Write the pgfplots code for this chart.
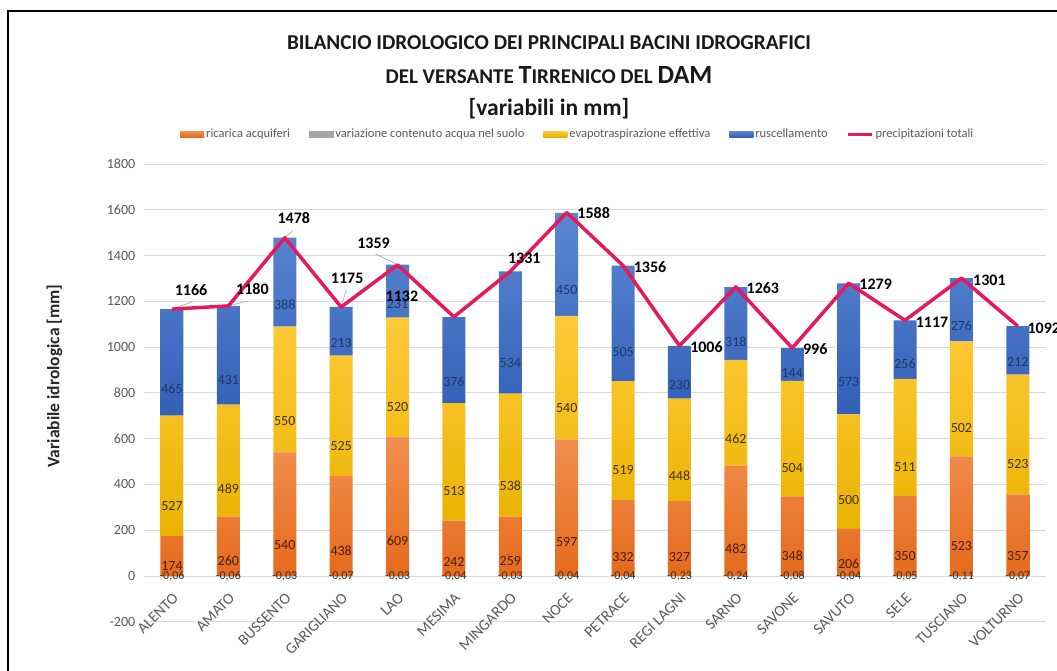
\documentclass[border=0pt]{standalone}
\usepackage{pgfplots}
\pgfplotsset{compat=1.18}
\usepackage{pgfplotstable}
\usepackage{fontspec}
\setmainfont{Carlito}
\definecolor{gridc}{HTML}{D9D9D9}
\definecolor{tickc}{HTML}{595959}
\definecolor{orT}{HTML}{F2904F}
\definecolor{orB}{HTML}{E56A1C}
\definecolor{orL}{HTML}{ED7D31}
\definecolor{yeT}{HTML}{FFCB3A}
\definecolor{yeB}{HTML}{EAB200}
\definecolor{yeL}{HTML}{FFC000}
\definecolor{blT}{HTML}{5B88D2}
\definecolor{blB}{HTML}{3360B8}
\definecolor{blL}{HTML}{4472C4}
\definecolor{grL}{HTML}{A5A5A5}
\definecolor{pk}{HTML}{E5195B}
\definecolor{labO}{HTML}{4A1E06}
\definecolor{labY}{HTML}{403200}
\definecolor{labB}{HTML}{1F3864}

\pgfplotstableread{
x R V E U vlab
0 174 -0.06 527 465 -0,06
1 260 -0.06 489 431 -0,06
2 540 -0.03 550 388 -0,03
3 438 -0.07 525 213 -0,07
4 609 -0.03 520 231 -0,03
5 242 -0.04 513 376 -0,04
6 259 -0.03 538 534 -0,03
7 597 -0.04 540 450 -0,04
8 332 -0.04 519 505 -0,04
9 327 -0.23 448 230 -0,23
10 482 -0.24 462 318 -0,24
11 348 -0.08 504 144 -0,08
12 206 -0.04 500 573 -0,04
13 350 -0.05 511 256 -0,05
14 523 -0.11 502 276 -0,11
15 357 -0.07 523 212 -0,07
}\bilancio

\pgfplotstableread{
x P dx dy
0 1166 19 19
1 1180 24 17
2 1478 9 19.5
3 1175 6 29
4 1359 -24 22
5 1132 -52 21
6 1331 14 13
7 1588 27 -1
8 1356 27 -1.5
9 1006 27 -1
10 1263 27 -1
11 996 23 -1
12 1279 27 -1
13 1117 27 -2
14 1301 28 -2
15 1092 26 -2
}\precip

\pgfplotstableread{
x y u v
0 1166 0.37 33
1 1180 0.35 22
2 1478 0.14 30
3 1175 0.09 74
4 1359 -0.39 48
}\leader

\begin{document}
\begin{tikzpicture}
\useasboundingbox (-143.8pt,-49.2pt) rectangle (913.2pt,621.8pt);
\begin{axis}[
  scale only axis, width=902.2pt, height=457.8pt,
  xmin=-0.5, xmax=15.5, ymin=-200, ymax=1800,
  ybar stacked, bar width=23pt,
  axis x line*=bottom, axis y line*=left,
  axis line style={draw=none},
  tick style={draw=none},
  ytick={-200,0,200,...,1800},
  ymajorgrids, grid style={gridc, line width=0.9pt},
  xtick={0,...,15},
  xticklabels={ALENTO,AMATO,BUSSENTO,GARIGLIANO,LAO,MESIMA,MINGARDO,NOCE,PETRACE,REGI LAGNI,SARNO,SAVONE,SAVUTO,SELE,TUSCIANO,VOLTURNO},
  xticklabel style={yshift=35pt, xshift=0pt, rotate=45, anchor=north east, font=\fontsize{15.5}{15.5}\selectfont, text=tickc},
  yticklabel style={xshift=-5pt, font=\fontsize{14}{14}\selectfont, text=tickc},
  /pgf/number format/1000 sep={},
  /pgf/number format/assume math mode=true,
  ylabel={Variabile idrologica [mm]},
  ylabel style={at={(axis description cs:-0.099,0.537)}, anchor=center, font=\bfseries\fontsize{17.5}{17.5}\selectfont, text=black!85},
  legend columns=5,
  legend style={draw=none, fill=none, at={(axis description cs:0.481,1.0655)}, anchor=center, font=\fontsize{12.5}{12.5}\selectfont, text=tickc, /tikz/every even column/.append style={column sep=17pt}},
  legend cell align=left,
  point meta=explicit symbolic,
  nodes near coords,
]
\addplot[forget plot, fill=grL, draw=none,
  every node near coord/.append style={anchor=center, font=\fontsize{12}{12}\selectfont, text=black!80}]
  table[x=x, y=V, meta=vlab]{\bilancio};
\addplot[draw=none, top color=orT, bottom color=orB,
  legend image code/.code={\fill[orL] (0pt,-3pt) rectangle (24pt,3pt);},
  visualization depends on={\thisrow{R}\as\segval},
  every node near coord/.append style={anchor=center, yshift=-\segval*0.057225pt, font=\fontsize{14}{14}\selectfont, text=labO}]
  table[x=x, y=R, meta=R]{\bilancio};
\addlegendentry{ricarica acquiferi}
\addlegendimage{legend image code/.code={\fill[grL] (0pt,-3pt) rectangle (24pt,3pt);}}
\addlegendentry{variazione contenuto acqua nel suolo}
\addplot[draw=none, top color=yeT, bottom color=yeB,
  legend image code/.code={\fill[yeL] (0pt,-3pt) rectangle (24pt,3pt);},
  visualization depends on={\thisrow{E}\as\segval},
  every node near coord/.append style={anchor=center, yshift=-\segval*0.057225pt, font=\fontsize{14}{14}\selectfont, text=labY}]
  table[x=x, y=E, meta=E]{\bilancio};
\addlegendentry{evapotraspirazione effettiva}
\addplot[draw=none, top color=blT, bottom color=blB,
  legend image code/.code={\fill[blL] (0pt,-3pt) rectangle (24pt,3pt);},
  visualization depends on={\thisrow{U}\as\segval},
  every node near coord/.append style={anchor=center, yshift=-\segval*0.057225pt, font=\fontsize{14}{14}\selectfont, text=labB}]
  table[x=x, y=U, meta=U]{\bilancio};
\addlegendentry{ruscellamento}
\addlegendimage{legend image code/.code={\draw[pk, line width=3pt] (0pt,0pt) -- (24pt,0pt);}}
\addlegendentry{precipitazioni totali}
\end{axis}
\begin{axis}[
  scale only axis, width=902.2pt, height=457.8pt,
  xmin=-0.5, xmax=15.5, ymin=-200, ymax=1800,
  hide axis, clip=false]
\addplot[gray!70, line width=0.6pt, quiver={u=\thisrow{u}, v=\thisrow{v}}]
  table[x=x, y=y]{\leader};
\addplot[pk, line width=3.5pt, line join=round, mark=none,
  point meta=explicit symbolic, nodes near coords,
  visualization depends on={\thisrow{dx}\as\ddx},
  visualization depends on={\thisrow{dy}\as\ddy},
  every node near coord/.append style={anchor=center, xshift=\ddx pt, yshift=\ddy pt, font=\bfseries\fontsize{16}{16}\selectfont, text=black}]
  table[x=x, y=P, meta=P]{\precip};
\end{axis}
\node[anchor=base, font=\bfseries\fontsize{21.2}{21.2}\selectfont, text=black!90] at (405.2pt,571.8pt) {BILANCIO IDROLOGICO DEI PRINCIPALI BACINI IDROGRAFICI};
\node[anchor=base, font=\bfseries\fontsize{21}{21}\selectfont, text=black!90] at (405.2pt,537.8pt) {DEL VERSANTE {\fontsize{26.3}{26.3}\selectfont T}IRRENICO DEL {\fontsize{26.3}{26.3}\selectfont DAM}};
\node[anchor=base, font=\bfseries\fontsize{23.5}{23.5}\selectfont, text=black!90] at (405.2pt,505.8pt) {[variabili in mm]};
\draw[line width=2.2pt, black] (-135.8pt,-60pt) -- (-135.8pt,610.8pt) -- (930pt,610.8pt);
\end{tikzpicture}
\end{document}
